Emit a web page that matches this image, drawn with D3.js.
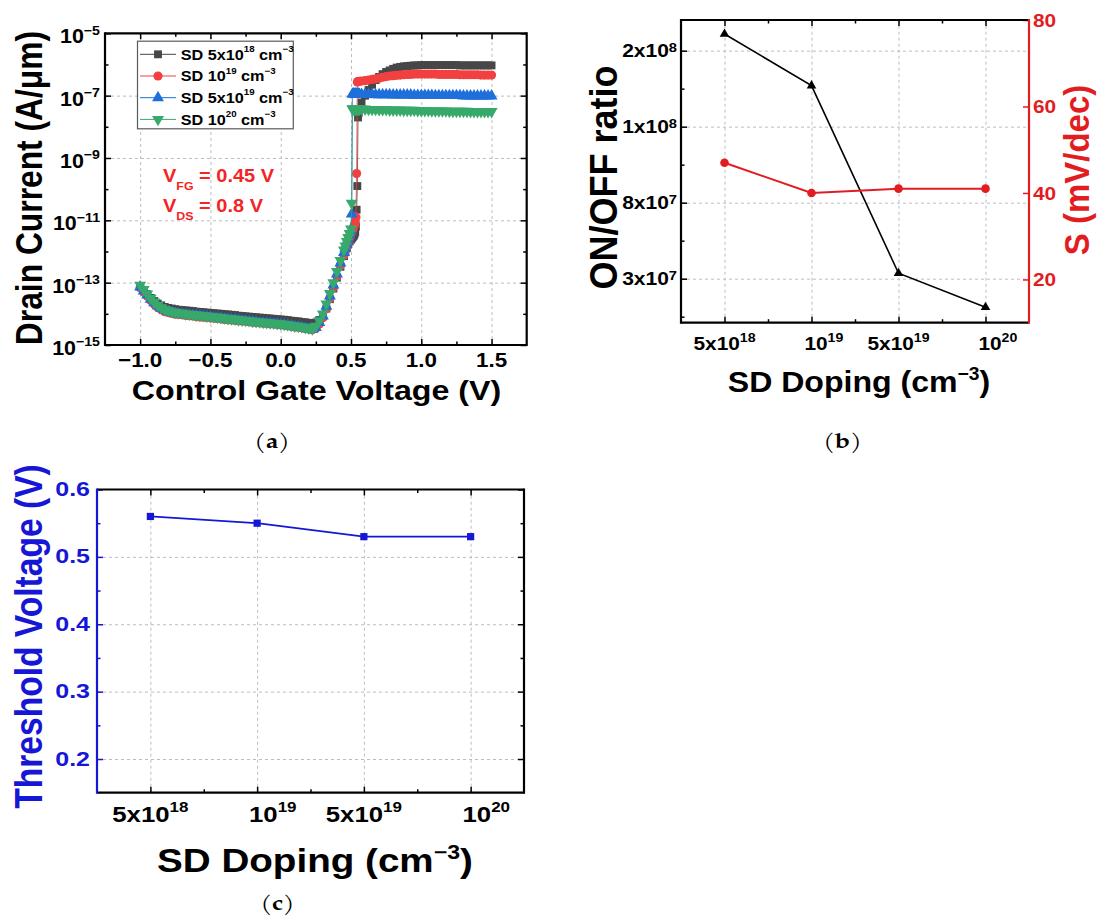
<!DOCTYPE html>
<html><head><meta charset="utf-8">
<script src="https://cdn.jsdelivr.net/npm/d3@7"></script>
<style>body{margin:0;background:#fff}svg{display:block}</style>
</head><body>
<svg id="fig" width="1098" height="917"></svg>
<script>
// ---------------- DATA ----------------
// Panel (a): control gate voltage sweep (V)
const vcg = [
 -1.000,-0.975,-0.950,-0.925,-0.900,-0.875,-0.850,-0.825,-0.800,-0.775,
 -0.750,-0.725,-0.700,-0.675,-0.650,-0.625,-0.600,-0.575,-0.550,-0.525,
 -0.500,-0.475,-0.450,-0.425,-0.400,-0.375,-0.350,-0.325,-0.300,-0.275,
 -0.250,-0.225,-0.200,-0.175,-0.150,-0.125,-0.100,-0.075,-0.050,-0.025,
  0.000, 0.025, 0.050, 0.075, 0.100, 0.125, 0.150, 0.175, 0.200, 0.225,
  0.250, 0.275, 0.300, 0.325, 0.350, 0.375, 0.400, 0.425, 0.450,
  0.46, 0.47, 0.48, 0.49, 0.50,
  0.505, 0.510, 0.515, 0.520, 0.525, 0.530, 0.535, 0.540, 0.545, 0.550, 0.555, 0.560,
  0.575, 0.600, 0.625, 0.650, 0.675, 0.700, 0.725, 0.750, 0.775, 0.800,
  0.825, 0.850, 0.875, 0.900, 0.925, 0.950, 0.975, 1.000, 1.025, 1.050,
  1.075, 1.100, 1.125, 1.150, 1.175, 1.200, 1.225, 1.250, 1.275, 1.300,
  1.325, 1.350, 1.375, 1.400, 1.425, 1.450, 1.475, 1.500
];
// log10 of drain current (A/um) for each doping
const logIdSD5e18 = [
 -13.12,-13.25,-13.37,-13.49,-13.59,-13.67,-13.73,-13.78,-13.81,-13.83,
 -13.85,-13.87,-13.88,-13.89,-13.90,-13.91,-13.93,-13.94,-13.95,-13.96,
 -13.97,-13.98,-13.99,-14.00,-14.01,-14.02,-14.03,-14.04,-14.06,-14.07,
 -14.08,-14.09,-14.10,-14.11,-14.12,-14.13,-14.14,-14.15,-14.16,-14.17,
 -14.18,-14.19,-14.20,-14.22,-14.23,-14.24,-14.26,-14.27,-14.29,-14.30,
 -14.28,-14.20,-14.06,-13.83,-13.53,-13.19,-12.84,-12.49,-12.15,
 -12.02,-11.89,-11.77,-11.68,-11.62,
 -11.58,-11.55,-11.52,-11.49,-11.45,-11.38,-11.20,-10.66,-9.90,-7.70,-7.55,-7.43,
 -7.22,-7.00,-6.82,-6.65,-6.50,-6.40,-6.31,-6.24,-6.19,-6.14,
 -6.10,-6.08,-6.06,-6.05,-6.04,-6.03,-6.03,-6.02,-6.02,-6.02,
 -6.02,-6.02,-6.02,-6.02,-6.02,-6.02,-6.02,-6.02,-6.03,-6.03,
 -6.03,-6.03,-6.03,-6.03,-6.03,-6.03,-6.03,-6.03
];
const logIdSD1e19 = [
 -13.16,-13.30,-13.43,-13.57,-13.69,-13.79,-13.87,-13.93,-13.96,-13.99,
 -14.01,-14.02,-14.03,-14.05,-14.06,-14.07,-14.09,-14.10,-14.11,-14.12,
 -14.13,-14.14,-14.15,-14.16,-14.18,-14.19,-14.20,-14.21,-14.22,-14.23,
 -14.24,-14.25,-14.27,-14.28,-14.29,-14.30,-14.31,-14.32,-14.33,-14.34,
 -14.35,-14.37,-14.38,-14.40,-14.42,-14.43,-14.45,-14.47,-14.49,-14.51,
 -14.47,-14.33,-14.13,-13.84,-13.51,-13.16,-12.80,-12.45,-12.11,
 -11.98,-11.84,-11.70,-11.57,-11.44,
 -11.38,-11.32,-11.26,-11.20,-11.14,-11.05,-10.90,-9.50,-6.56,-6.55,-6.55,-6.54,
 -6.53,-6.52,-6.50,-6.48,-6.46,-6.44,-6.41,-6.39,-6.37,-6.36,
 -6.35,-6.34,-6.33,-6.32,-6.32,-6.31,-6.31,-6.31,-6.31,-6.31,
 -6.31,-6.31,-6.32,-6.32,-6.32,-6.32,-6.32,-6.32,-6.33,-6.33,
 -6.33,-6.33,-6.33,-6.33,-6.34,-6.34,-6.34,-6.34
];
const logIdSD5e19 = [
 -13.14,-13.27,-13.40,-13.53,-13.65,-13.75,-13.83,-13.89,-13.93,-13.96,
 -13.98,-14.00,-14.01,-14.03,-14.04,-14.05,-14.06,-14.07,-14.08,-14.09,
 -14.11,-14.12,-14.13,-14.14,-14.16,-14.17,-14.18,-14.19,-14.21,-14.22,
 -14.23,-14.24,-14.26,-14.27,-14.28,-14.29,-14.30,-14.31,-14.32,-14.33,
 -14.34,-14.36,-14.37,-14.39,-14.41,-14.42,-14.44,-14.46,-14.48,-14.50,
 -14.44,-14.28,-14.07,-13.76,-13.43,-13.08,-12.72,-12.37,-12.03,
 -11.90,-11.76,-11.62,-11.49,-11.35,
 -10.80,-6.95,-6.95,-6.95,-6.95,-6.95,-6.95,-6.95,-6.95,-6.95,-6.95,-6.96,
 -6.96,-6.96,-6.96,-6.96,-6.97,-6.97,-6.97,-6.97,-6.97,-6.98,
 -6.98,-6.98,-6.98,-6.98,-6.98,-6.99,-6.99,-6.99,-6.99,-6.99,
 -6.99,-7.00,-7.00,-7.00,-7.00,-7.00,-7.00,-7.00,-7.00,-7.01,
 -7.01,-7.01,-7.01,-7.01,-7.01,-7.01,-7.01,-7.01
];
const logIdSD1e20 = [
 -13.08,-13.22,-13.36,-13.50,-13.62,-13.72,-13.80,-13.86,-13.90,-13.93,
 -13.95,-13.97,-13.98,-14.00,-14.01,-14.02,-14.04,-14.05,-14.06,-14.07,
 -14.09,-14.10,-14.11,-14.12,-14.14,-14.15,-14.16,-14.17,-14.19,-14.20,
 -14.21,-14.22,-14.24,-14.25,-14.26,-14.27,-14.28,-14.29,-14.30,-14.31,
 -14.32,-14.34,-14.35,-14.37,-14.39,-14.40,-14.42,-14.44,-14.46,-14.48,
 -14.40,-14.22,-14.00,-13.68,-13.35,-13.00,-12.64,-12.29,-11.95,
 -11.82,-11.68,-11.55,-11.42,-11.28,
 -10.45,-7.43,-7.43,-7.43,-7.43,-7.43,-7.43,-7.43,-7.43,-7.43,-7.43,-7.43,
 -7.43,-7.43,-7.44,-7.44,-7.44,-7.45,-7.45,-7.45,-7.46,-7.46,
 -7.46,-7.46,-7.47,-7.47,-7.47,-7.47,-7.48,-7.48,-7.48,-7.48,
 -7.49,-7.49,-7.49,-7.49,-7.49,-7.50,-7.50,-7.50,-7.50,-7.50,
 -7.50,-7.51,-7.51,-7.51,-7.51,-7.51,-7.51,-7.51
];
const legendBase = ["SD 5x10", "SD 10", "SD 5x10", "SD 10"];
const legendExp  = ["18", "19", "19", "20"];
const xTicksA = [-1.0, -0.5, 0.0, 0.5, 1.0, 1.5];
const yExpA = [-5, -7, -9, -11, -13, -15];

// Panels (b) and (c): SD doping categories
const dopingBase = ["5x10", "10", "5x10", "10"];
const dopingExp  = ["18", "19", "19", "20"];
const onOffRatio = [2.22e8, 1.54e8, 3.36e7, 1.12e7];
const onOffTicks = [3e7, 8e7, 1e8, 2e8];
const onOffTickBase = ["3x10", "8x10", "1x10", "2x10"];
const onOffTickExp  = ["7", "7", "8", "8"];
const swingS = [47, 40, 41, 41];          // mV/dec
const sTicks = [20, 40, 60, 80];
const vth = [0.56, 0.55, 0.53, 0.53];     // V
const vthTicks = [0.2, 0.3, 0.4, 0.5, 0.6];

// ---------------- DRAWING ----------------
const FONT = "Arial, 'Liberation Sans', Helvetica, sans-serif";
const SERIF = "'Palatino Linotype', 'TeX Gyre Pagella', 'Liberation Serif', 'DejaVu Serif', serif";
const svg = d3.select('#fig');

function rich(g, x, y, parts, o = {}) {
  const size = o.size || 16, sx = o.sx || 1;
  let tr = `translate(${x},${y}) scale(${sx},1)`;
  if (o.rotate) tr += ` rotate(${o.rotate})`;
  const t = g.append('text').attr('transform', tr)
    .attr('text-anchor', o.anchor || 'start')
    .attr('font-family', o.family || FONT)
    .attr('font-weight', o.weight || 'bold')
    .attr('font-size', size)
    .attr('fill', o.fill || '#000');
  if (o.dx) t.attr('dx', o.dx);
  let shift = 0;
  parts.forEach(p => {
    const arr = typeof p === 'string' ? [p, 'n'] : p;
    const [s, k, w] = arr;
    const target = k === 'sup' ? -size * (o.supShift || 0.42) : k === 'sub' ? size * (o.subShift || 0.45) : 0;
    const ts = t.append('tspan').text(s)
      .attr('font-size', k === 'n' ? size : size * (o.small || 0.65));
    if (w) ts.attr('font-weight', w);
    if (target !== shift) { ts.attr('dy', target - shift); shift = target; }
  });
  return t;
}

function tickAxis(g, fn, scale, vals, len, tr, color, sw = 1.5) {
  const a = g.append('g').attr('transform', tr)
    .call(fn(scale).tickValues(vals).tickSize(-len).tickFormat(''));
  a.select('.domain').remove();
  a.selectAll('line').attr('stroke', color).attr('stroke-width', sw);
}
function grid(g, fn, scale, vals, len, tr) {
  const a = g.append('g').attr('transform', tr)
    .call(fn(scale).tickValues(vals).tickSize(-len).tickFormat(''));
  a.select('.domain').remove();
  a.selectAll('line').attr('stroke', '#bdbdbd').attr('stroke-width', 1).attr('stroke-dasharray', '3,3');
}
function frame(g, P, colors) {
  const w = 2.2;
  g.append('line').attr('x1', P.l).attr('x2', P.r).attr('y1', P.t).attr('y2', P.t).attr('stroke', colors.t).attr('stroke-width', w);
  g.append('line').attr('x1', P.l).attr('x2', P.r).attr('y1', P.b).attr('y2', P.b).attr('stroke', colors.b).attr('stroke-width', w);
  g.append('line').attr('x1', P.l).attr('x2', P.l).attr('y1', P.t - 1).attr('y2', P.b + 1).attr('stroke', colors.l).attr('stroke-width', w);
  g.append('line').attr('x1', P.r).attr('x2', P.r).attr('y1', P.t - 1).attr('y2', P.b + 1).attr('stroke', colors.r).attr('stroke-width', w);
}

// ======== Panel (a) ========
(function () {
  const P = {l: 105, r: 526.7, t: 33.3, b: 345};
  const g = svg.append('g');
  const x = d3.scaleLinear().domain([-1.25, 1.75]).range([P.l, P.r]);
  const y = d3.scaleLog().domain([1e-15, 1e-5]).range([P.b, P.t]);
  const H = P.b - P.t, W = P.r - P.l;
  grid(g, d3.axisBottom, x, xTicksA, H, `translate(0,${P.b})`);
  grid(g, d3.axisLeft, y, yExpA.slice(1, -1).map(e => Math.pow(10, e)), W, `translate(${P.l},0)`);

  const series = [
    {vals: logIdSD5e18, color: '#474747', sym: d3.symbolSquare, size: 62, rot: 0},
    {vals: logIdSD1e19, color: '#f24040', sym: d3.symbolCircle, size: 66, rot: 0},
    {vals: logIdSD5e19, color: '#1f6fdb', sym: d3.symbolTriangle, size: 62, rot: 0},
    {vals: logIdSD1e20, color: '#37a96a', sym: d3.symbolTriangle, size: 62, rot: 180},
  ];
  const line = d3.line().x(d => x(d[0])).y(d => y(d[1]));
  series.forEach(s => {
    const n = Math.min(vcg.length, s.vals.length);
    const pts = d3.range(n).map(i => [vcg[i], Math.pow(10, s.vals[i])]);
    g.append('path').attr('d', line(pts)).attr('fill', 'none').attr('stroke', s.color).attr('stroke-width', 1).attr('opacity', 0.8);
    g.append('g').selectAll('path').data(pts).join('path')
      .attr('d', d3.symbol(s.sym, s.size))
      .attr('transform', d => `translate(${x(d[0])},${y(d[1])})` + (s.rot ? ` rotate(${s.rot})` : ''))
      .attr('fill', s.color);
  });

  // ticks
  const minorX = [-0.75, -0.25, 0.25, 0.75, 1.25];
  const majY = yExpA.map(e => Math.pow(10, e));
  const minY = [-6, -8, -10, -12, -14].map(e => Math.pow(10, e));
  tickAxis(g, d3.axisBottom, x, xTicksA, 6, `translate(0,${P.b})`, '#000');
  tickAxis(g, d3.axisBottom, x, minorX, 3.5, `translate(0,${P.b})`, '#000');
  tickAxis(g, d3.axisTop, x, xTicksA, 6, `translate(0,${P.t})`, '#000');
  tickAxis(g, d3.axisTop, x, minorX, 3.5, `translate(0,${P.t})`, '#000');
  tickAxis(g, d3.axisLeft, y, majY, 6, `translate(${P.l},0)`, '#000');
  tickAxis(g, d3.axisLeft, y, minY, 3.5, `translate(${P.l},0)`, '#000');
  tickAxis(g, d3.axisRight, y, majY, 6, `translate(${P.r},0)`, '#000');
  tickAxis(g, d3.axisRight, y, minY, 3.5, `translate(${P.r},0)`, '#000');
  frame(g, P, {t: '#000', b: '#000', l: '#000', r: '#000'});

  // tick labels
  const fmt = d3.format('.1f');
  xTicksA.forEach(v => rich(g, x(v), P.b + 21.7, [fmt(v)], {size: 20, sx: 1.12, anchor: 'middle'}));
  yExpA.forEach(e => rich(g, P.l - 5, y(Math.pow(10, e)) + 10, ['10', ['\u2212' + Math.abs(e), 'sup']],
    {size: 19.5, sx: 1.1, anchor: 'end', small: 0.66, supShift: 0.45}));

  // titles
  rich(g, 316.5, 400, ['Control Gate Voltage (V)'], {size: 28, sx: 1.15, anchor: 'middle'});
  rich(g, 42, 188, ['Drain Current (A/\u03bcm)'], {size: 31.8, sx: 1.15, anchor: 'middle', rotate: -90});

  // annotations
  rich(g, 163, 181.7, ['V', ['FG', 'sub'], ' = 0.45 V'], {size: 17.7, sx: 1.13, fill: '#f42424', small: 0.62, subShift: 0.47});
  rich(g, 163, 211.7, ['V', ['DS', 'sub'], ' = 0.8 V'], {size: 17.7, sx: 1.13, fill: '#f42424', small: 0.62, subShift: 0.47});

  // legend
  const L = {x: 137.5, y: 41.2, w: 155.8, h: 87.6};
  g.append('rect').attr('x', L.x).attr('y', L.y).attr('width', L.w).attr('height', L.h)
    .attr('fill', '#fff').attr('stroke', '#5a5a5a').attr('stroke-width', 1.2);
  series.forEach((s, i) => {
    const cy = 54.3 + i * 21.7;
    g.append('line').attr('x1', 140).attr('x2', 176).attr('y1', cy).attr('y2', cy).attr('stroke', s.color).attr('stroke-width', 1);
    g.append('path').attr('d', d3.symbol(s.sym, s.size)).attr('transform', `translate(158,${cy})` + (s.rot ? ` rotate(${s.rot})` : '')).attr('fill', s.color);
    rich(g, 180.7, cy + 5.2, [legendBase[i], [legendExp[i], 'sup'], ' cm', ['\u22123', 'sup']],
      {size: 15, sx: 1.08, small: 0.6, supShift: 0.5});
  });
  rich(svg, 272, 448, ['(', ['a', 'n', 'bold'], ')'], {size: 21, sx: 1.2, anchor: 'middle', family: SERIF, weight: 'normal'});
})();

// ======== Panel (b) ========
(function () {
  const P = {l: 681, r: 1029, t: 20, b: 322.7};
  const g = svg.append('g');
  const H = P.b - P.t, W = P.r - P.l;
  const x = d3.scaleLinear().domain([-0.5, 3.5]).range([P.l, P.r]);
  // Origin-style axis: labelled ticks are evenly spaced (piecewise-linear scale)
  const slot = 0.2511, base0 = 0.1454;
  const yL = d3.scaleLinear().domain(onOffTicks)
    .range(onOffTicks.map((v, k) => P.b - (base0 + slot * k) * H));
  const yR = d3.scaleLinear().domain([10, 80]).range([P.b, P.t]);
  const idx = d3.range(dopingBase.length);

  grid(g, d3.axisBottom, x, idx, H, `translate(0,${P.b})`);
  grid(g, d3.axisLeft, yL, onOffTicks, W, `translate(${P.l},0)`);

  // ON/OFF ratio (black, triangles)
  const lineL = d3.line().x((d, i) => x(i)).y(d => yL(d));
  g.append('path').attr('d', lineL(onOffRatio)).attr('fill', 'none').attr('stroke', '#000').attr('stroke-width', 1.6);
  g.selectAll('.tri').data(onOffRatio).join('path').attr('class', 'tri')
    .attr('d', d3.symbol(d3.symbolTriangle, 40))
    .attr('transform', (d, i) => `translate(${x(i)},${yL(d)})`).attr('fill', '#000');
  // S (red, circles)
  const lineR = d3.line().x((d, i) => x(i)).y(d => yR(d));
  g.append('path').attr('d', lineR(swingS)).attr('fill', 'none').attr('stroke', '#e21d22').attr('stroke-width', 2);
  g.selectAll('.cir').data(swingS).join('circle').attr('class', 'cir')
    .attr('cx', (d, i) => x(i)).attr('cy', d => yR(d)).attr('r', 4.3).attr('fill', '#e21d22');

  const minorIdx = [0.5, 1.5, 2.5];
  tickAxis(g, d3.axisBottom, x, idx, 6, `translate(0,${P.b})`, '#000');
  tickAxis(g, d3.axisBottom, x, minorIdx, 3.5, `translate(0,${P.b})`, '#000');
  tickAxis(g, d3.axisTop, x, idx, 6, `translate(0,${P.t})`, '#000');
  tickAxis(g, d3.axisTop, x, minorIdx, 3.5, `translate(0,${P.t})`, '#000');
  tickAxis(g, d3.axisLeft, yL, onOffTicks, 6, `translate(${P.l},0)`, '#000');
  tickAxis(g, d3.axisLeft, yL, [5e6, 5.5e7, 9e7, 1.5e8], 3.5, `translate(${P.l},0)`, '#000');
  tickAxis(g, d3.axisRight, yR, sTicks, 6, `translate(${P.r},0)`, '#e21d22');
  frame(g, P, {t: '#000', b: '#000', l: '#000', r: '#e21d22'});

  idx.forEach(i => rich(g, x(i), 350, [dopingBase[i], [dopingExp[i], 'sup']],
    {size: 18.6, sx: 1.12, anchor: 'middle', small: 0.68, supShift: 0.42, dx: dopingBase[i] === '10' ? 11 : 0}));
  onOffTicks.forEach((v, k) => rich(g, 677, yL(v) + 6.5, [onOffTickBase[k], [onOffTickExp[k], 'sup']],
    {size: 17.5, sx: 1.2, anchor: 'end', small: 0.7, supShift: 0.3}));
  sTicks.forEach(v => rich(g, 1033, yR(v) + 6.7, [String(v)], {size: 18.6, sx: 1.12, fill: '#e21d22'}));

  rich(g, 859, 391.7, ['SD Doping (cm', ['\u22123', 'sup'], ')'], {size: 30, sx: 1.07, anchor: 'middle', small: 0.6, supShift: 0.4});
  rich(g, 617, 177.5, ['ON/OFF ratio'], {size: 36, sx: 1.1, anchor: 'middle', rotate: -90});
  rich(g, 1089, 170, ['S (mV/dec)'], {size: 33, sx: 1.06, anchor: 'middle', rotate: -90, fill: '#e21d22'});
  rich(svg, 842.5, 448, ['(', ['b', 'n', 'bold'], ')'], {size: 21, sx: 1.2, anchor: 'middle', family: SERIF, weight: 'normal'});
})();

// ======== Panel (c) ========
(function () {
  const P = {l: 97, r: 524, t: 489.5, b: 792.7};
  const g = svg.append('g');
  const H = P.b - P.t, W = P.r - P.l;
  const blue = '#1616d6';
  const x = d3.scaleLinear().domain([-0.5, 3.5]).range([P.l, P.r]);
  const y = d3.scaleLinear().domain([0.15, 0.6]).range([P.b, P.t]);
  const idx = d3.range(dopingBase.length);

  grid(g, d3.axisBottom, x, idx, H, `translate(0,${P.b})`);
  grid(g, d3.axisLeft, y, vthTicks.slice(0, -1), W, `translate(${P.l},0)`);

  const line = d3.line().x((d, i) => x(i)).y(d => y(d));
  g.append('path').attr('d', line(vth)).attr('fill', 'none').attr('stroke', blue).attr('stroke-width', 1.8);
  g.selectAll('.sq').data(vth).join('path').attr('class', 'sq')
    .attr('d', d3.symbol(d3.symbolSquare, 52))
    .attr('transform', (d, i) => `translate(${x(i)},${y(d)})`).attr('fill', blue);

  const minorIdx = [0.5, 1.5, 2.5];
  const minorY = [0.25, 0.35, 0.45, 0.55];
  tickAxis(g, d3.axisBottom, x, idx, 6, `translate(0,${P.b})`, '#000');
  tickAxis(g, d3.axisBottom, x, minorIdx, 3.5, `translate(0,${P.b})`, '#000');
  tickAxis(g, d3.axisTop, x, idx, 6, `translate(0,${P.t})`, '#000');
  tickAxis(g, d3.axisTop, x, minorIdx, 3.5, `translate(0,${P.t})`, '#000');
  tickAxis(g, d3.axisLeft, y, vthTicks, 6, `translate(${P.l},0)`, blue);
  tickAxis(g, d3.axisLeft, y, minorY, 3.5, `translate(${P.l},0)`, blue);
  tickAxis(g, d3.axisRight, y, vthTicks, 6, `translate(${P.r},0)`, '#000');
  tickAxis(g, d3.axisRight, y, minorY, 3.5, `translate(${P.r},0)`, '#000');
  frame(g, P, {t: '#000', b: '#000', l: blue, r: '#000'});

  idx.forEach(i => rich(g, x(i), 821.7, [dopingBase[i], [dopingExp[i], 'sup']],
    {size: 23, sx: 1.12, anchor: 'middle', small: 0.66, supShift: 0.42, dx: dopingBase[i] === '10' ? 14 : 0}));
  const f1 = d3.format('.1f');
  vthTicks.forEach(v => rich(g, 90, y(v) + 6.5, [f1(v)], {size: 20.5, sx: 1.22, anchor: 'end', fill: blue}));

  rich(g, 315, 871.7, ['SD Doping (cm', ['\u22123', 'sup'], ')'], {size: 33, sx: 1.17, anchor: 'middle', small: 0.6, supShift: 0.4});
  rich(g, 41.7, 636.5, ['Threshold Voltage (V)'], {size: 33.6, sx: 1.15, anchor: 'middle', rotate: -90, fill: blue});
  rich(svg, 277.5, 910, ['(', ['c', 'n', 'bold'], ')'], {size: 21, sx: 1.2, anchor: 'middle', family: SERIF, weight: 'normal'});
})();
</script>
</body></html>
